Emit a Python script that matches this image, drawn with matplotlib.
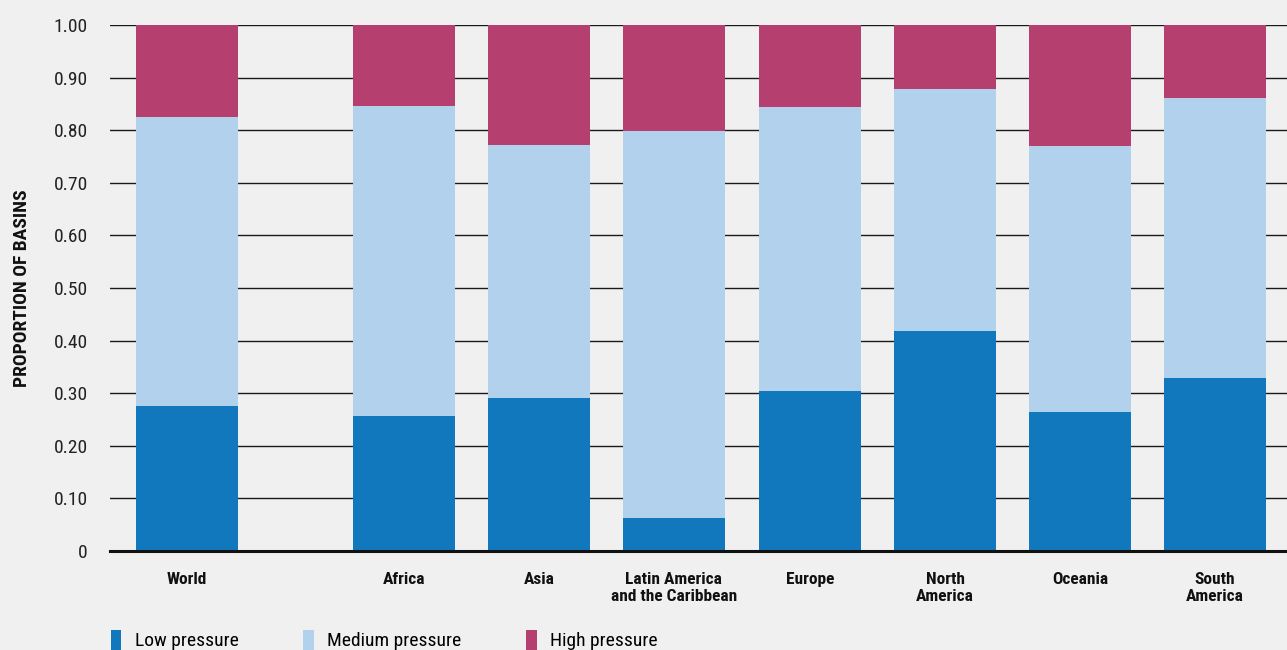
"""
Proportion of basins by water-pressure class, world and regions.
Stacked bars, recreated with matplotlib.
"""

import matplotlib

matplotlib.use("Agg")
import matplotlib.pyplot as plt
from matplotlib import font_manager
from matplotlib.patches import Patch

# prefer a narrow face if one is installed
_names = {f.name for f in font_manager.fontManager.ttflist}
_narrow = [n for n in ("Roboto Condensed", "Liberation Sans Narrow", "DejaVu Sans Condensed",
                       "Open Sans Condensed", "Roboto") if n in _names]
plt.rcParams["font.family"] = _narrow[:1] + ["DejaVu Sans"]

# --- data -------------------------------------------------------------------
regions = [
    "World",
    "Africa",
    "Asia",
    "Latin America\nand the Caribbean",
    "Europe",
    "North\nAmerica",
    "Oceania",
    "South\nAmerica",
]
# bar positions (World sits apart from the regions)
positions = [0.0, 1.607, 2.607, 3.607, 4.615, 5.615, 6.615, 7.615]

low = [0.276, 0.257, 0.291, 0.063, 0.304, 0.418, 0.264, 0.329]
medium = [0.549, 0.589, 0.481, 0.735, 0.540, 0.460, 0.506, 0.532]
high = [0.175, 0.154, 0.228, 0.202, 0.156, 0.122, 0.230, 0.139]

series_names = ["Low pressure", "Medium pressure", "High pressure"]
colors = ["#1278be", "#b2d1ed", "#b54070"]

y_ticks = [0, 0.1, 0.2, 0.3, 0.4, 0.5, 0.6, 0.7, 0.8, 0.9, 1.0]
y_ticklabels = ["0", "0.10", "0.20", "0.30", "0.40", "0.50", "0.60", "0.70", "0.80", "0.90", "1.00"]

BG = "#f0f0f0"

# --- figure -----------------------------------------------------------------
fig = plt.figure(figsize=(12.87, 6.5), dpi=100, facecolor=BG)
ax = fig.add_axes([110 / 1287, 99 / 650, 1177 / 1287, 526 / 650])
ax.set_facecolor(BG)

width = 102 / 135
bottom = [0.0] * len(regions)
for vals, name, col in zip((low, medium, high), series_names, colors):
    ax.bar(positions, vals, width=width, bottom=bottom, color=col, label=name, zorder=3)
    bottom = [b + v for b, v in zip(bottom, vals)]

ax.set_xlim(-0.570, 8.148)
ax.set_ylim(0, 1.0)
ax.set_yticks(y_ticks)
ax.set_yticklabels(y_ticklabels, fontsize=14, color="#222222")
ax.set_xticks(positions)
ax.set_xticklabels(regions, fontsize=12.5, fontweight="bold", color="#111111", linespacing=1.2, va="top")

ax.yaxis.grid(True, color="#1a1a1a", lw=1.0, zorder=0)
ax.tick_params(axis="y", length=0, pad=16)
ax.tick_params(axis="x", length=0, pad=15)
for side in ("top", "right", "left"):
    ax.spines[side].set_visible(False)
ax.spines["bottom"].set_color("#111111")
ax.spines["bottom"].set_linewidth(2.2)
ax.spines["bottom"].set_zorder(4)

fig.text(22 / 1287, 1 - 288 / 650, "PROPORTION OF BASINS", rotation=90, fontsize=14,
         fontweight="bold", color="#111111", ha="center", va="center")

handles = [Patch(facecolor=c, edgecolor="none") for c in colors]
fig.legend(handles, series_names, loc="upper left", bbox_to_anchor=(103 / 1287, 1 - 622 / 650),
           ncol=3, frameon=False, fontsize=14, handlelength=0.55, handleheight=1.2,
           handletextpad=0.7, columnspacing=3.3, borderaxespad=0)

fig.savefig("out.png", dpi=100, facecolor=BG)
